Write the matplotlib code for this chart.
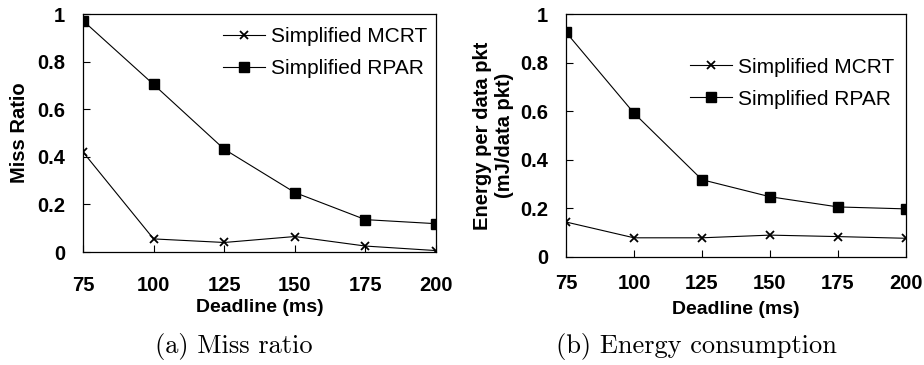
import matplotlib
matplotlib.use("Agg")
import matplotlib.pyplot as plt

# ---- data ----
deadlines = [75, 100, 125, 150, 175, 200]
xtick_labels = ["75", "100", "125", "150", "175", "200"]
yticks = [0, 0.2, 0.4, 0.6, 0.8, 1.0]
ytick_labels = ["0", "0.2", "0.4", "0.6", "0.8", "1"]

miss_mcrt = [0.42, 0.055, 0.04, 0.065, 0.025, 0.006]
miss_rpar = [0.972, 0.704, 0.432, 0.25, 0.136, 0.119]

energy_mcrt = [0.144, 0.079, 0.079, 0.09, 0.084, 0.077]
energy_rpar = [0.925, 0.592, 0.318, 0.248, 0.206, 0.198]

series_names = ["Simplified MCRT", "Simplified RPAR"]
xlabel_text = "Deadline (ms)"
ylabel_a = "Miss Ratio"
ylabel_b = "Energy per data pkt\n(mJ/data pkt)"
caption_a = "(a) Miss ratio"
caption_b = "(b) Energy consumption"

plt.rcParams["font.family"] = ["Liberation Sans", "DejaVu Sans"]

fig = plt.figure(figsize=(9.24, 3.65), dpi=100)

W, H = 924.0, 365.0
def axpos(l, t, r, b):
    return [l / W, 1 - b / H, (r - l) / W, (b - t) / H]

ax_a = fig.add_axes(axpos(83, 14, 436, 252))
ax_b = fig.add_axes(axpos(566, 14, 906, 257))


def style(ax, mcrt, rpar, ylabel, ylab_x, xlab_y, leg_anchor, xpad):
    ax.plot(deadlines, mcrt, color="black", lw=0.8, marker="x", ms=6,
            mew=1.3, label=series_names[0])
    ax.plot(deadlines, rpar, color="black", lw=0.8, marker="s", ms=6.5,
            label=series_names[1])
    ax.set_xlim(75, 200)
    ax.set_ylim(0, 1)
    ax.set_xticks(deadlines)
    ax.set_xticklabels(xtick_labels, fontsize=14.5, fontweight="bold")
    ax.set_yticks(yticks)
    ax.set_yticklabels(ytick_labels, fontsize=14.5, fontweight="bold")
    ax.tick_params(axis="both", direction="in", length=5, width=0.8)
    ax.tick_params(axis="y", pad=13)
    ax.tick_params(axis="x", pad=xpad)
    for s in ax.spines.values():
        s.set_linewidth(0.9)
    ax.set_ylabel(ylabel, fontsize=14.5, fontweight="bold", va="center",
                  ha="center")
    ax.yaxis.set_label_coords(ylab_x, 0.5)
    ax.set_xlabel(xlabel_text, fontsize=14, fontweight="bold", va="center")
    ax.xaxis.set_label_coords(0.5, xlab_y)
    ax.legend(loc="upper right", bbox_to_anchor=leg_anchor, frameon=False,
              fontsize=15, borderpad=0, borderaxespad=0, handlelength=2.0,
              handletextpad=0.3, labelspacing=0.62)


style(ax_a, miss_mcrt, miss_rpar, ylabel_a, -0.18, -0.235, (0.975, 0.945), 17)
style(ax_b, energy_mcrt, energy_rpar, ylabel_b, -0.213, -0.214, (0.965, 0.82), 12)

fig.text(234 / W, 1 - 347 / H, caption_a, family=["cmr10", "DejaVu Serif"],
         fontsize=19, ha="center", va="center")
fig.text(696 / W, 1 - 347 / H, caption_b, family=["cmr10", "DejaVu Serif"],
         fontsize=19, ha="center", va="center")

fig.savefig("out.png", dpi=100)
